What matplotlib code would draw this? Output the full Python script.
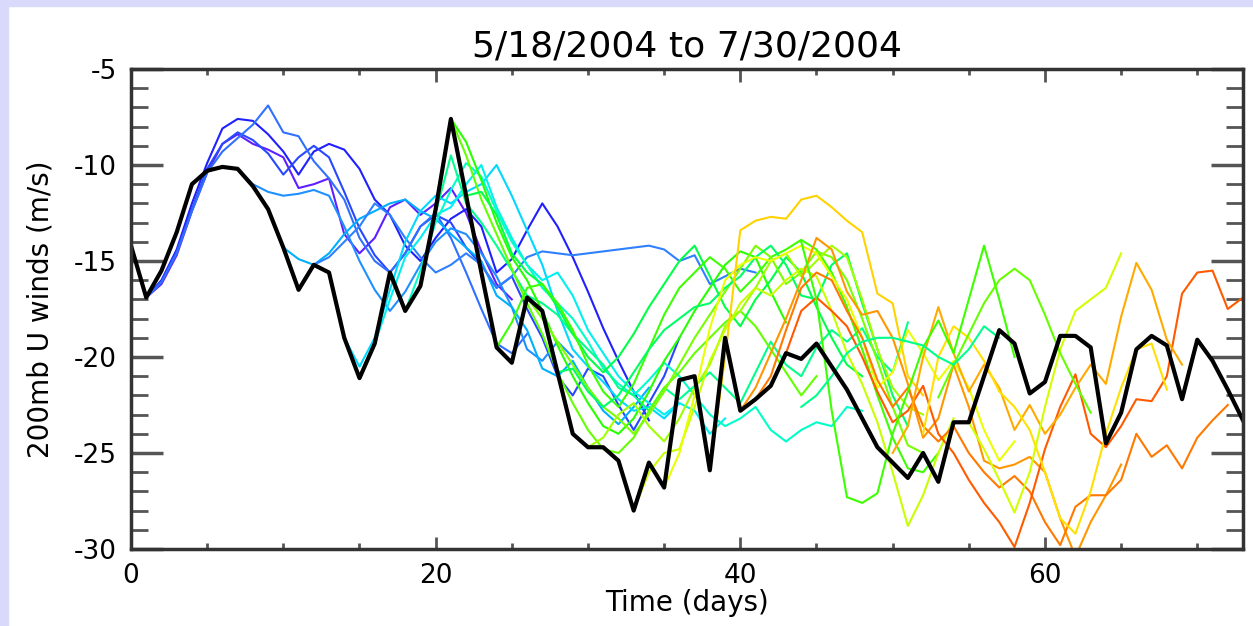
import matplotlib
matplotlib.use('Agg')
import matplotlib.pyplot as plt
from matplotlib.ticker import MultipleLocator
from matplotlib.patches import Rectangle

plt.rcParams['axes.unicode_minus'] = False

# observed 200mb U wind (black)
obs = [-14.2, -16.9, -15.5, -13.5, -11.0, -10.3, -10.1, -10.2, -11.1, -12.3,
       -14.3, -16.5, -15.2, -15.6, -19.0, -21.1, -19.3, -15.6, -17.6, -16.3,
       -12.3, -7.6, -11.6, -15.6, -19.5, -20.3, -16.9, -17.6, -20.8, -24.0,
       -24.7, -24.7, -25.4, -28.0, -25.5, -26.8, -21.2, -21.0, -25.9, -19.0,
       -22.8, -22.2, -21.5, -19.8, -20.1, -19.3, -20.5, -21.7, -23.2, -24.7,
       -25.5, -26.3, -25.0, -26.5, -23.4, -23.4, -21.0, -18.6, -19.3, -21.9,
       -21.3, -18.9, -18.9, -19.5, -24.5, -22.9, -19.6, -18.9, -19.4, -22.2,
       -19.1, -20.2, -21.7, -23.3]

# forecasts: start day, colour, values (one per day)
fc01 = [-16.9, -16.2, -14.7, -12.4, -10.4, -8.9, -8.4, -8.9, -9.2, -9.6, -11.2, -11.0, -10.7,
        -13.6, -14.6, -13.8, -12.2, -11.8, -12.6, -12.0, -11.2, -12.5, -14.5, -16.2, -17.0]
fc02 = [-16.9, -16.0, -14.4, -12.0, -9.9, -8.1, -7.6, -7.7, -8.4, -9.3, -10.5, -9.3, -8.9, -9.2,
        -10.2, -11.8, -12.6, -14.2, -15.0, -13.8, -12.8, -12.3, -13.2, -15.6, -14.9, -13.4, -12.0,
        -13.2, -14.8, -16.6, -18.5, -20.2, -21.8, -23.3]
fc03 = [-16.9, -16.1, -14.5, -12.3, -10.2, -8.9, -8.3, -8.7, -9.4, -10.5, -9.6, -9.0, -9.6, -11.4,
        -13.3, -14.7, -15.6, -14.6, -13.2, -12.6, -13.0, -14.3, -15.2, -16.4, -15.8, -17.5, -19.0,
        -21.0, -22.0, -20.6, -21.0, -22.5, -23.8, -22.4, -21.0, -19.0]
fc04 = [-16.9, -16.1, -14.6, -12.4, -10.4, -9.3, -8.6, -7.9, -6.9, -8.3, -8.5, -9.8, -10.7, -11.8,
        -13.8, -15.0, -15.6, -14.6, -13.2, -12.5, -13.8, -15.6, -17.5, -19.3, -19.8, -18.8]
fc05 = [-10.2, -11.0, -11.4, -11.6, -11.5, -11.3, -11.6, -13.2, -15.0, -16.5, -17.6, -16.6, -15.2,
        -14.0, -13.3, -13.6, -14.6, -15.8, -17.4, -19.6, -20.2, -19.2, -20.0]
fc06 = [-14.3, -14.9, -15.2, -14.6, -13.6, -12.8, -12.4, -12.0, -11.8, -12.4, -12.8, -13.6, -14.3,
        -15.0, -16.8, -17.4, -18.6, -20.6, -21.0, -20.2, -21.6, -22.8, -23.5, -22.6, -21.6]
fc07 = [-15.2, -14.8, -14.0, -13.2, -12.0, -12.6, -13.8, -14.8, -15.6, -15.2, -14.6, -15.2, -16.4,
        -15.8, -14.8, -14.5, -14.6, -14.7, -14.6, -14.5, -14.4, -14.3, -14.2, -14.4, -15.0, -14.7,
        -16.2, -15.8, -15.4, -15.6]
fc08 = [-19.0, -20.5, -19.0, -16.5, -14.0, -12.4, -11.6, -12.0, -11.4, -11.0, -10.0, -11.6, -13.4,
        -15.2, -17.6, -19.6, -20.5, -21.3, -22.2, -22.8, -22.6, -23.2, -22.4]
fc09 = [-19.3, -17.0, -14.8, -13.8, -12.6, -12.2, -11.0, -10.0, -12.2, -13.8, -15.2, -16.0, -15.6,
        -16.8, -18.6, -19.8, -21.0, -21.8, -22.4, -23.0, -22.4, -22.8, -24.0, -23.2]
fc10 = [-17.6, -15.5, -13.0, -11.3, -9.9, -10.6, -12.4, -14.0, -15.2, -16.4, -17.2, -18.0, -19.2,
        -20.6, -21.4, -22.0, -21.2, -20.3, -21.0, -22.0, -23.0, -23.6, -23.2, -22.6, -23.8, -24.4,
        -23.8, -23.4, -23.6, -22.6, -22.8]
fc11 = [-12.5, -9.5, -12.0, -13.0, -14.2, -15.5, -16.8, -17.2, -17.8, -18.8, -19.6, -20.4, -21.6,
        -22.0, -22.8, -21.6, -22.2, -21.5, -20.8, -21.6, -22.4, -20.8, -19.2, -20.4, -21.0, -19.5,
        -18.6, -19.2, -18.5, -20.0, -20.8, -18.2]
fc12 = [-7.6, -8.8, -10.8, -13.0, -14.8, -16.0, -17.6, -19.4, -21.0, -22.4, -23.6, -24.0, -23.2,
        -21.8, -20.2, -19.0, -17.6, -16.4, -15.2, -14.5, -14.8, -16.6, -18.2]
fc13 = [-7.6, -9.5, -11.8, -13.6, -15.4, -17.2, -18.8, -20.8, -22.4, -23.8, -24.8, -25.0, -24.2,
        -22.8, -21.6, -20.8, -19.8, -19.0, -18.2, -17.6, -18.4, -19.6, -20.8, -22.0, -21.0]
fc14 = [-11.6, -11.4, -12.6, -14.6, -15.6, -16.2, -17.4, -18.8, -20.0, -20.8, -20.0, -18.8, -17.4,
        -16.2, -15.0, -14.2, -15.8, -17.4, -18.4, -17.0, -16.0, -14.8, -15.6, -17.4, -19.0, -20.4,
        -21.0]
fc15 = [-19.5, -18.2, -16.4, -16.2, -17.2, -18.6, -20.4, -21.8, -22.6, -21.4, -19.6, -17.8, -16.4,
        -15.6, -14.8, -15.4, -16.6, -15.8, -14.8, -14.4, -13.9, -14.4, -15.6, -17.4, -19.6, -22.0,
        -24.2, -25.8, -26.0, -25.0]
fc16 = [-16.9, -18.0, -19.2, -20.4, -21.6, -22.6, -23.2, -24.0, -23.0, -21.8, -20.4, -19.0, -17.8,
        -16.6, -15.4, -14.2, -14.8, -16.2, -15.6, -14.5, -14.8, -16.0, -18.0, -20.2, -22.6, -24.6,
        -25.0]
fc17 = [-20.8, -20.6, -21.8, -22.6, -22.0, -20.8, -19.6, -18.6, -18.0, -17.4, -17.2, -16.4, -15.8,
        -14.8, -14.2, -15.2, -16.8, -17.0, -15.2, -14.6, -17.2, -19.6, -22.0, -23.6]
fc18 = [-24.7, -24.2, -23.0, -22.4, -23.6, -24.4, -23.2, -21.6, -20.4, -18.4, -17.6, -16.4, -15.0,
        -14.6, -15.8, -15.0, -14.2, -14.8, -17.0, -19.6, -21.6, -22.6, -23.0]
fc19 = [-28.0, -26.0, -25.0, -24.8, -22.6, -20.2, -18.6, -17.2, -16.4, -16.8, -16.0, -15.4, -15.8,
        -17.6, -19.8, -21.4, -23.4, -26.0, -28.8, -27.2, -25.0, -23.2]
fc20 = [-26.8, -25.0, -22.0, -18.5, -16.0, -15.2, -14.8, -15.0, -14.6, -14.2, -14.6, -15.8, -17.0,
        -19.0, -21.6, -20.8, -18.6, -19.8, -21.2, -20.2, -21.6, -23.8, -25.4, -24.4]
fc21 = [-25.9, -20.0, -13.4, -12.9, -12.7, -12.8, -11.8, -11.6, -12.2, -12.9, -13.5, -16.7, -17.2,
        -21.0, -22.0]
fc22 = [-22.8, -21.6, -19.8, -18.0, -16.0, -13.8, -14.4, -16.6, -17.8, -17.6, -19.0, -21.4, -24.2,
        -23.2, -20.4, -22.6, -25.4, -25.8, -25.6, -25.2, -26.0, -28.4, -30.4, -28.6, -27.2, -25.6]
fc23 = [-22.2, -21.0, -18.6, -16.4, -15.6, -16.0, -17.6, -19.0, -21.2, -22.6, -21.6, -23.6, -24.4,
        -23.6, -25.0, -26.0, -26.8, -26.2, -27.0, -28.6, -29.8, -27.8, -27.2, -27.2, -26.4, -24.0,
        -25.2, -24.6, -25.8, -24.2, -23.3, -22.5]
fc24 = [-21.5, -19.8, -17.6, -16.9, -17.6, -18.4, -20.0, -21.8, -23.4, -22.8, -21.5, -24.0, -25.0,
        -26.4, -27.6, -28.6, -29.9, -27.6, -24.8, -22.6, -20.9, -24.0, -24.7, -23.6, -22.2, -22.3,
        -21.0, -16.7, -15.6, -15.5, -17.5, -16.9]
fc25 = [-25.0, -23.6, -20.0, -17.4, -19.8, -21.8, -20.4, -21.6, -23.8, -22.5, -24.0, -23.0, -21.6,
        -20.4, -21.4, -17.9, -15.1, -16.5, -19.1, -20.4]
fc26 = [-24.0, -20.0, -18.4, -19.0, -20.2, -21.8, -22.6, -23.8, -26.0, -28.4, -29.2, -27.0, -24.0,
        -21.6, -19.6, -19.3, -21.7]
fc27 = [-23.4, -24.8, -26.4, -28.1, -26.0, -22.6, -19.6, -17.6, -17.0, -16.4, -14.6]
fc28 = [-14.0, -17.0, -22.8, -27.3, -27.6, -27.1, -24.0, -21.8, -19.5, -18.1, -19.8, -17.0, -14.2,
        -17.0, -20.0]
fc29 = [-22.1, -20.4, -18.8, -17.2, -16.0, -15.4, -16.0, -17.8, -19.8, -21.4, -22.9]
fc30 = [-22.6, -22.0, -21.0, -19.8, -19.2, -19.0, -19.0, -19.2, -19.4, -20.0, -20.4, -19.6, -18.4,
        -19.0]

forecasts = [fc01, fc02, fc03, fc04, fc05, fc06, fc07, fc08, fc09, fc10,
             fc11, fc12, fc13, fc14, fc15, fc16, fc17, fc18, fc19, fc20,
             fc21, fc22, fc23, fc24, fc25, fc26, fc27, fc28, fc29, fc30]
fc_start = [1, 1, 1, 1, 7, 10, 12, 14, 16, 18,
            20, 21, 21, 22, 24, 26, 28, 30, 33, 35,
            38, 40, 41, 42, 50, 52, 55, 44, 53, 44]
fc_color = ['#5f1fff', '#2020ff', '#2848ff', '#3070ff', '#1e90ff', '#00b0ff', '#2f80ff', '#00d8ff',
            '#00f0f0', '#00ffc8', '#00ff8c', '#28ff00', '#64ff00', '#00ff46', '#3cff00', '#78ff00',
            '#00ff64', '#a0ff00', '#c8ff00', '#eaff00', '#ffd200', '#ff9600', '#ff7800', '#ff5a00',
            '#ffaa00', '#ffe100', '#d2ff00', '#3cff00', '#64ff00', '#00ff8c']

fig = plt.figure(figsize=(12.53, 6.26), dpi=100)
# lavender frame on top and left
fig.patches.append(Rectangle((0, 0), 8 / 1253, 1, transform=fig.transFigure,
                             color='#d9d9fb', zorder=0))
fig.patches.append(Rectangle((0, 1 - 6 / 626), 1, 6 / 626, transform=fig.transFigure,
                             color='#d9d9fb', zorder=0))
ax = fig.add_axes([131 / 1253, 1 - 549 / 626, 1112 / 1253, 480 / 626])

for vals, s, c in zip(forecasts, fc_start, fc_color):
    ax.plot(range(s, s + len(vals)), vals, color=c, lw=1.5)
ax.plot(range(len(obs)), obs, color='black', lw=3.0)

ax.set_xlim(0, 73)
ax.set_ylim(-30, -5)
ax.xaxis.set_major_locator(MultipleLocator(20))
ax.xaxis.set_minor_locator(MultipleLocator(5))
ax.yaxis.set_major_locator(MultipleLocator(5))
ax.yaxis.set_minor_locator(MultipleLocator(1))
ax.tick_params(axis='both', which='both', direction='in', top=True, right=True,
               color='#555555')
ax.tick_params(axis='y', which='major', length=23, width=2.5, labelsize=19, pad=10)
ax.tick_params(axis='y', which='minor', length=12, width=2)
ax.tick_params(axis='x', which='major', length=9, width=2, labelsize=19, pad=10)
ax.tick_params(axis='x', which='minor', length=4, width=2)
for sp in ax.spines.values():
    sp.set_linewidth(2.5)
    sp.set_color('#333333')

ax.set_title('5/18/2004 to 7/30/2004', fontsize=26, pad=9)
ax.set_xlabel('Time (days)', fontsize=20, labelpad=0)
ax.set_ylabel('200mb U winds (m/s)', fontsize=20, labelpad=14)

fig.savefig('out.png', dpi=100)
